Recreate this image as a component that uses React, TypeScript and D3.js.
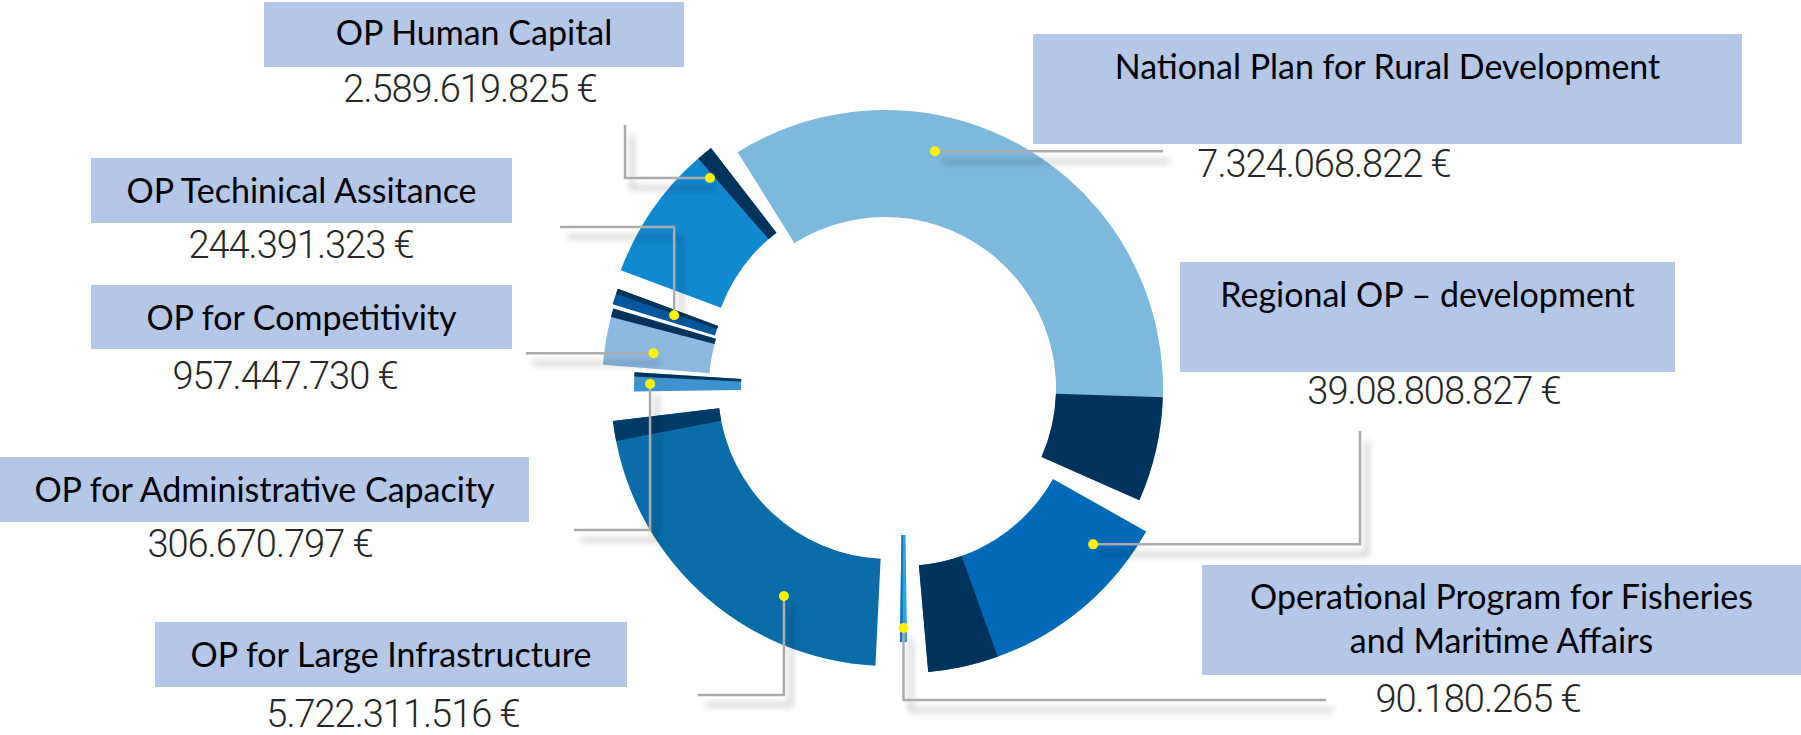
import React from "react";
import * as d3 from "d3";

// programmes in clockwise order, starting with the big top-right one
const programs = [
  "National Plan for Rural Development",
  "Regional OP – development",
  "Operational Program for Fisheries\nand Maritime Affairs",
  "OP for Large Infrastructure",
  "OP for Administrative Capacity",
  "OP for Competitivity",
  "OP Techinical Assitance",
  "OP Human Capital",
];
const amounts = [
  "7.324.068.822 €",
  "39.08.808.827 €",
  "90.180.265 €",
  "5.722.311.516 €",
  "306.670.797 €",
  "957.447.730 €",
  "244.391.323 €",
  "2.589.619.825 €",
];
// arc each programme gets in the picture (degrees) and the dark band at its end
const arcDegrees = [145.8, 55.6, 1.6, 80.4, 4.4, 11.8, 3.4, 31.7];
const bandDegrees = [21.9, 14.7, 0.6, 4.2, 1.0, 1.8, 1.1, 3.4];
// empty space after each arc (degrees)
const gapDegrees = [5.6, 4.2, 2.0, 6.0, 1.0, 0.6, 0.2, 5.7];

const W = 1801;
const H = 735;
const CX = 885;
const CY = 388;
const R_IN = 171;
const R_OUT = 278;
const START = (328 * Math.PI) / 180;

const NAVY = "#00335C";

type Step = ["x" | "y", number];
interface Look {
  fill: string;
  band: string;
  shift: [number, number];
  inset: number;
  dot: [number, number];
  route: Step[];
  box: [number, number, number, number];
  lines: number[];
  value: [number, number];
}

const looks: Look[] = [
  { fill: "#7DB8DD", band: NAVY, shift: [0, 0], inset: 0, dot: [11.9, 242], route: [["x", 1163]], box: [1033, 34, 709, 110], lines: [79], value: [1324, 177] },
  { fill: "#0069B8", band: NAVY, shift: [19, 7], inset: 0, dot: [128.3, 241], route: [["x", 1360], ["y", 431]], box: [1180, 262, 495, 110], lines: [307], value: [1434, 404] },
  { fill: "#2BA6E6", band: "#1373B8", shift: [18.5, 0], inset: 24, dot: [180, 240], route: [["y", 700], ["x", 1326]], box: [1202, 565, 599, 110], lines: [609, 653], value: [1478, 712] },
  { fill: "#0A6CA8", band: "#003A66", shift: [4, 0], inset: 0, dot: [206.8, 233], route: [["y", 695], ["x", 698]], box: [155, 622, 472, 65], lines: [667], value: [393, 727] },
  { fill: "#3D93CF", band: NAVY, shift: [0, 0], inset: 27, dot: [271, 235], route: [["y", 530], ["x", 574]], box: [0, 457, 529, 65], lines: [502], value: [260, 557] },
  { fill: "#8CB9DF", band: NAVY, shift: [-5, -1], inset: 0, dot: [278.5, 229], route: [["x", 526]], box: [91, 285, 421, 64], lines: [330], value: [285, 389] },
  { fill: "#00579E", band: NAVY, shift: [-6.6, -2.4], inset: 0, dot: [289, 216], route: [["y", 227], ["x", 560]], box: [91, 158, 421, 65], lines: [203], value: [301, 258] },
  { fill: "#1089D0", band: NAVY, shift: [-4, -20], inset: 0, dot: [318, 255.6], route: [["x", 625], ["y", 125]], box: [264, 2, 420, 65], lines: [45], value: [470, 102] },
];

interface Piece {
  idx: number; // -1 for a gap
  v: number;
}

const pieces: Piece[] = [];
arcDegrees.forEach((v, i) => {
  pieces.push({ idx: i, v });
  pieces.push({ idx: -1, v: gapDegrees[i] });
});

const pie = d3
  .pie<Piece>()
  .sort(null)
  .value((d) => d.v)
  .startAngle(START)
  .endAngle(START + Math.PI * 2);

const slices = pie(pieces).filter((p) => p.data.idx >= 0);

const rad = (deg: number) => (deg * Math.PI) / 180;

export default function App() {
  return (
    <svg
      width={W}
      height={H}
      viewBox={`0 0 ${W} ${H}`}
      style={{ position: "absolute", left: 0, top: 0, background: "#fff" }}
    >
      <defs>
        <filter id="lineShadow" filterUnits="userSpaceOnUse" x={0} y={0} width={W} height={H}>
          <feGaussianBlur in="SourceAlpha" stdDeviation="3.5" result="blur" />
          <feOffset in="blur" dx="7" dy="10" result="off" />
          <feComponentTransfer in="off" result="soft">
            <feFuncA type="linear" slope="0.35" />
          </feComponentTransfer>
          <feMerge>
            <feMergeNode in="soft" />
            <feMergeNode in="SourceGraphic" />
          </feMerge>
        </filter>
      </defs>

      {/* donut pieces */}
      {slices.map((s) => {
        const i = s.data.idx;
        const lk = looks[i];
        const arc = d3
          .arc<any>()
          .innerRadius(R_IN - lk.inset)
          .outerRadius(R_OUT - lk.inset);
        const bandStart = s.endAngle - rad(bandDegrees[i]);
        return (
          <g key={i} transform={`translate(${CX + lk.shift[0]},${CY + lk.shift[1]})`}>
            <path d={arc({ startAngle: s.startAngle, endAngle: s.endAngle }) || ""} fill={lk.fill} />
            <path d={arc({ startAngle: bandStart, endAngle: s.endAngle }) || ""} fill={lk.band} />
          </g>
        );
      })}

      {/* leader lines */}
      <g filter="url(#lineShadow)" fill="none" stroke="#ABABAB" strokeWidth={2.5}>
        {looks.map((lk, i) => {
          const a = rad(lk.dot[0]);
          let x = CX + lk.shift[0] + lk.dot[1] * Math.sin(a);
          let y = CY + lk.shift[1] - lk.dot[1] * Math.cos(a);
          const pts: [number, number][] = [[x, y]];
          lk.route.forEach(([axis, v]) => {
            if (axis === "x") x = v;
            else y = v;
            pts.push([x, y]);
          });
          return <path key={i} d={d3.line()(pts) || ""} />;
        })}
      </g>

      {/* yellow markers */}
      {looks.map((lk, i) => {
        const a = rad(lk.dot[0]);
        return (
          <circle
            key={i}
            cx={CX + lk.shift[0] + lk.dot[1] * Math.sin(a)}
            cy={CY + lk.shift[1] - lk.dot[1] * Math.cos(a)}
            r={5}
            fill="#FFF200"
          />
        );
      })}

      {/* label boxes */}
      {looks.map((lk, i) => {
        const [bx, by, bw, bh] = lk.box;
        const names = programs[i].split("\n");
        return (
          <g key={i}>
            <rect x={bx} y={by} width={bw} height={bh} fill="#B4C7E7" />
            {names.map((t, j) => (
              <text
                key={j}
                x={bx + bw / 2}
                y={lk.lines[j]}
                textAnchor="middle"
                fontFamily="Lato, 'Open Sans', sans-serif"
                fontSize={34}
                fill="#000"
              >
                {t}
              </text>
            ))}
            <text
              x={lk.value[0]}
              y={lk.value[1]}
              textAnchor="middle"
              fontFamily="Roboto, sans-serif"
              fontWeight={300}
              fontSize={38}
              letterSpacing={-1}
              fill="#262626"
            >
              {amounts[i]}
            </text>
          </g>
        );
      })}
    </svg>
  );
}
